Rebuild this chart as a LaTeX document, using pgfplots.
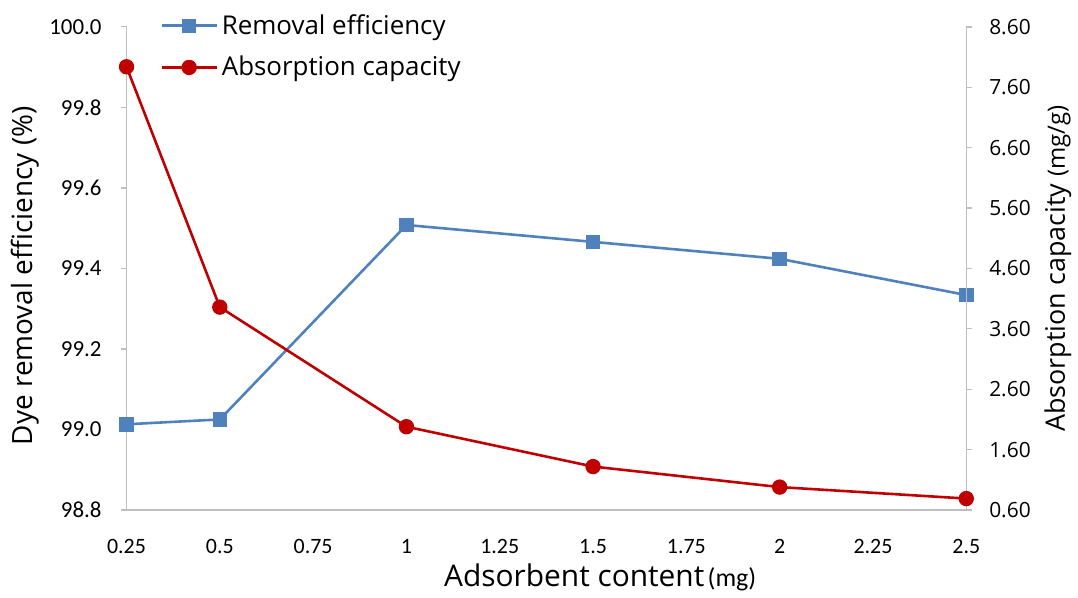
\documentclass[border=0pt]{standalone}
\usepackage{pgfplots}
\pgfplotsset{compat=1.18}
\usepackage{fontspec}
\setmainfont{Open Sans}
\newfontfamily\carl{Carlito}
\definecolor{exblue}{HTML}{4F81BD}
\definecolor{exred}{HTML}{C00000}
\definecolor{axgray}{HTML}{BFBFBF}
\begin{document}
\begin{tikzpicture}
\pgfplotsset{
  base/.style={
    scale only axis, width=421.5pt, height=242.5pt,
    xmin=0.25, xmax=2.5,
    every axis plot/.append style={line width=1.3pt},
    /pgf/number format/assume math mode=true,
    tick align=outside, major tick length=3pt,
    tick style={axgray, line width=0.6pt},
    axis line style={axgray, line width=0.6pt},
  }
}
\begin{axis}[base, name=ax,
  axis x line*=bottom, axis y line*=left,
  ymin=98.8, ymax=100.0, ytick={98.8,99.0,...,100.0},
  yticklabel style={/pgf/number format/fixed, /pgf/number format/fixed zerofill, /pgf/number format/precision=1,
    font=\carl\fontsize{11.5}{12}\selectfont, xshift=-6pt},
  xtick={0.25,0.5,...,2.5},
  xticklabels={0.25,0.5,0.75,1,1.25,1.5,1.75,2,2.25,2.5},
  x tick style={draw=none},
  xticklabel style={font=\carl\fontsize{11}{12}\selectfont, yshift=-8pt},
  ylabel={Dye removal efficiency (\%)},
  every axis y label/.style={at={(axis description cs:0,0.485)}, rotate=90, anchor=center,
    yshift=51pt, font=\fontsize{14}{16}\selectfont},
  xlabel={{\fontsize{15}{17}\selectfont Adsorbent content}\,{\carl\fontsize{13}{15}\selectfont(mg)}},
  every axis x label/.style={at={(axis description cs:0.5,0)}, anchor=center, yshift=-34pt, xshift=27pt},
]
\addplot[exblue, mark=square*, mark size=3pt, mark options={fill=exblue, draw=exblue}]
  coordinates {(0.25,99.013) (0.5,99.025) (1,99.508) (1.5,99.466) (2,99.424) (2.5,99.334)};
\end{axis}
\begin{axis}[base,
  axis x line=none, axis y line*=right,
  ymin=0.6, ymax=8.6, ytick={0.6,1.6,...,8.6},
  yticklabel style={/pgf/number format/fixed, /pgf/number format/fixed zerofill, /pgf/number format/precision=2,
    font=\fontsize{10.5}{12}\selectfont, xshift=5pt},
  ylabel={Absorption capacity {\fontsize{12}{14}\selectfont(mg/g)}},
  every axis y label/.style={at={(axis description cs:1,0.5)}, rotate=90, anchor=center,
    yshift=-46pt, font=\fontsize{13.5}{15}\selectfont},
  legend style={at={(rel axis cs:0.04,1.035)}, anchor=north west, draw=none, fill=none,
    font=\fontsize{13}{15}\selectfont, row sep=5.5pt, inner sep=0pt},
  legend cell align=left,
  legend image code/.code={
    \draw[#1] (0pt,0pt) -- (27.5pt,0pt);
    \draw[#1, only marks] plot coordinates {(13.75pt,0pt)};
  },
]
\addlegendimage{exblue, line width=1.3pt, mark=square*, mark size=3pt, mark options={fill=exblue, draw=exblue}}
\addlegendentry{Removal efficiency}
\addplot[exred, mark=*, mark size=3.2pt, mark options={fill=exred, draw=exred}]
  coordinates {(0.25,7.94) (0.5,3.96) (1,1.98) (1.5,1.32) (2,0.98) (2.5,0.79)};
\addlegendentry{Absorption capacity}
\end{axis}
\path ([xshift=-63.5pt,yshift=-41.5pt]ax.south west) rectangle ([xshift=54pt,yshift=13.5pt]ax.north east);
\end{tikzpicture}
\end{document}
